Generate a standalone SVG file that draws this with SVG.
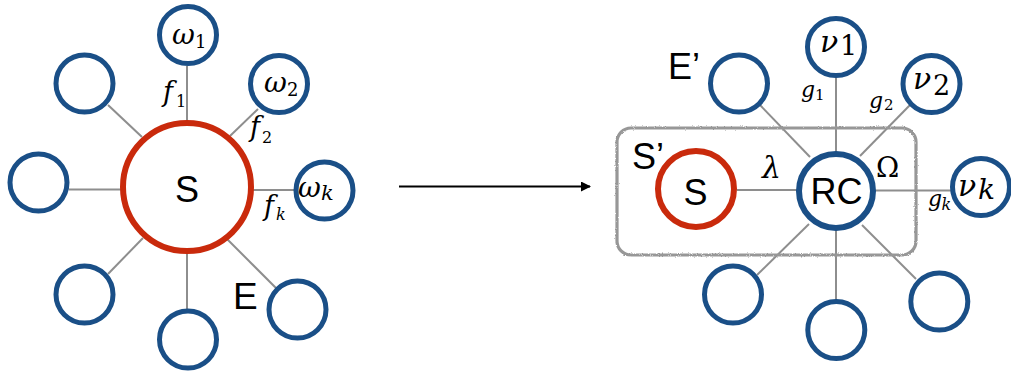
<svg xmlns="http://www.w3.org/2000/svg" width="1011" height="376" viewBox="0 0 1011 376">
  <style>
    .env { fill: #fff; stroke: #1a4f87; stroke-width: 5; }
    .sys { fill: #fff; stroke: #c92a0c; stroke-width: 6; }
    .rc { fill: #fff; stroke: #1a4f87; stroke-width: 6; }
    .link { stroke: #8e8e8e; stroke-width: 2; fill: none; }
    .lbl { font-family: "Liberation Sans", Arial, sans-serif; fill: #000; }
    .m { font-family: "DejaVu Serif", "Liberation Serif", serif; font-style: italic; fill: #000; }
    .n { font-family: "DejaVu Serif", "Liberation Serif", serif; font-style: normal; fill: #000; }
  </style>
  <defs>
    <marker id="head" viewBox="0 0 10 10" refX="9" refY="5" markerWidth="10" markerHeight="10" markerUnits="userSpaceOnUse" orient="auto">
      <path d="M0,0 L10,5 L0,10 Z" fill="#000"/>
    </marker>
    <filter id="grain" x="-5%" y="-5%" width="110%" height="110%">
      <feTurbulence type="fractalNoise" baseFrequency="0.9" numOctaves="2" seed="3" result="noise"/>
      <feDisplacementMap in="SourceGraphic" in2="noise" scale="2.5" xChannelSelector="R" yChannelSelector="G"/>
    </filter>
  </defs>

  <!-- connectors -->
  <g id="connectors">
    <!-- left star around S -->
    <line class="link" x1="187" y1="66" x2="187" y2="122"/>
    <line class="link" x1="230" y1="136" x2="258" y2="109"/>
    <line class="link" x1="252" y1="190" x2="296" y2="190"/>
    <line class="link" x1="227" y1="239" x2="276" y2="288"/>
    <line class="link" x1="187" y1="251" x2="187" y2="309"/>
    <line class="link" x1="143" y1="238" x2="108" y2="274"/>
    <line class="link" x1="69" y1="189.5" x2="122" y2="189.5"/>
    <line class="link" x1="108" y1="105" x2="142" y2="137"/>
    <!-- right star around RC -->
    <line class="link" x1="836" y1="76" x2="836" y2="155"/>
    <line class="link" x1="910" y1="105" x2="860" y2="156"/>
    <line class="link" x1="873" y1="190.5" x2="954" y2="190.5"/>
    <line class="link" x1="862" y1="225" x2="916" y2="279"/>
    <line class="link" x1="836" y1="227" x2="836" y2="300"/>
    <line class="link" x1="809" y1="224" x2="757" y2="275"/>
    <line class="link" x1="737" y1="190" x2="800" y2="190"/>
    <line class="link" x1="760" y1="105" x2="810" y2="157"/>
    <!-- mapping arrow -->
    <line x1="399" y1="186.5" x2="590" y2="186.5" stroke="#000" stroke-width="2" marker-end="url(#head)"/>
  </g>

  <!-- left: system S coupled to bath E -->
  <g id="node-S">
    <circle class="sys" cx="187" cy="187" r="64"/>
    <text class="lbl" x="187" y="201.5" font-size="36" text-anchor="middle">S</text>
  </g>
  <g id="node-w1">
    <circle class="env" cx="188" cy="35" r="28.5"/>
    <text class="m" x="172" y="44" font-size="28">ω</text>
    <text class="n" x="195" y="48" font-size="18">1</text>
  </g>
  <g id="node-w2">
    <circle class="env" cx="279" cy="84" r="28.5"/>
    <text class="m" x="264" y="91.5" font-size="28">ω</text>
    <text class="n" x="287" y="95.5" font-size="18">2</text>
  </g>
  <g id="node-wk">
    <circle class="env" cx="324.5" cy="190.5" r="28.5"/>
    <text class="m" x="298" y="196.5" font-size="28">ω</text>
    <text class="m" x="321" y="200" font-size="21">k</text>
  </g>
  <g id="node-e-ul"><circle class="env" cx="84.5" cy="83.5" r="28.5"/></g>
  <g id="node-e-l"><circle class="env" cx="38.5" cy="182.5" r="28.5"/></g>
  <g id="node-e-ll"><circle class="env" cx="84.5" cy="294.5" r="28.5"/></g>
  <g id="node-e-b"><circle class="env" cx="188" cy="339.5" r="28.5"/></g>
  <g id="node-e-lr"><circle class="env" cx="297.5" cy="309.5" r="28.5"/></g>
  <g id="labels-left">
    <text class="m" x="163" y="101" font-size="27">f</text>
    <text class="n" x="176" y="106.5" font-size="16">1</text>
    <text class="m" x="250" y="136" font-size="27">f</text>
    <text class="n" x="262" y="143" font-size="16">2</text>
    <text class="m" x="264" y="215" font-size="27">f</text>
    <text class="m" x="276" y="220" font-size="16">k</text>
    <text class="lbl" x="233" y="309" font-size="37">E</text>
  </g>

  <!-- right: extended system S' = S + reaction coordinate, residual bath E' -->
  <g id="group-Sprime">
    <rect x="617" y="128" width="299" height="127" rx="14" fill="none" stroke="#979797" stroke-width="3.2" filter="url(#grain)"/>
    <text class="lbl" x="632" y="169" font-size="36">S’</text>
  </g>
  <g id="node-S2">
    <circle class="sys" cx="696" cy="189" r="38"/>
    <text class="lbl" x="695.5" y="205" font-size="36" text-anchor="middle">S</text>
  </g>
  <g id="node-RC">
    <circle class="rc" cx="836" cy="191" r="37"/>
    <text class="lbl" x="836.5" y="204" font-size="36" text-anchor="middle">RC</text>
  </g>
  <g id="node-v1">
    <circle class="env" cx="836" cy="47" r="28.5"/>
    <text class="m" x="820" y="51.5" font-size="30">ν</text>
    <text class="n" x="840" y="55" font-size="27">1</text>
  </g>
  <g id="node-v2">
    <circle class="env" cx="931.5" cy="84" r="28.5"/>
    <text class="m" x="913" y="88.5" font-size="30">ν</text>
    <text class="n" x="933" y="94.5" font-size="27">2</text>
  </g>
  <g id="node-vk">
    <circle class="env" cx="981" cy="187" r="28.5"/>
    <text class="m" x="958" y="196" font-size="30">ν</text>
    <text class="m" x="978" y="198.5" font-size="28">k</text>
  </g>
  <g id="node-e2-ul"><circle class="env" cx="739" cy="83.5" r="28.5"/></g>
  <g id="node-e2-ll"><circle class="env" cx="733" cy="294.5" r="28.5"/></g>
  <g id="node-e2-b"><circle class="env" cx="836.3" cy="330" r="28.5"/></g>
  <g id="node-e2-lr"><circle class="env" cx="939.3" cy="301.5" r="28.5"/></g>
  <g id="labels-right">
    <text class="lbl" x="668" y="79" font-size="36">E’</text>
    <text class="m" x="801" y="96.5" font-size="22">g</text>
    <text class="n" x="815" y="100" font-size="15">1</text>
    <text class="m" x="869" y="108" font-size="22">g</text>
    <text class="n" x="884" y="110" font-size="15">2</text>
    <text class="m" x="928" y="205.5" font-size="22">g</text>
    <text class="m" x="941.5" y="210" font-size="16">k</text>
    <text class="n" x="876" y="176.5" font-size="28">Ω</text>
    <text class="m" x="762" y="178" font-size="30">λ</text>
  </g>
</svg>
